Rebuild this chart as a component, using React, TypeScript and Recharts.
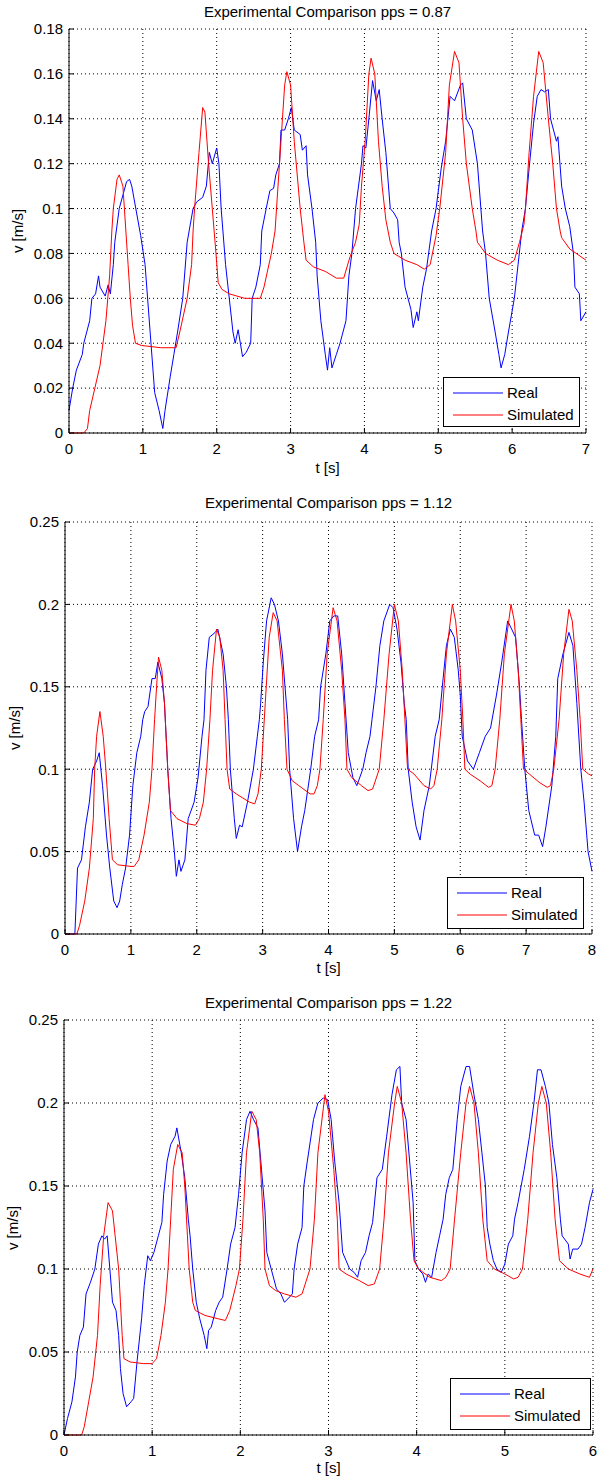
import { LineChart, Line, XAxis, YAxis, CartesianGrid, Legend } from "recharts";

type Pt = [number, number];

// pps = 0.87
const real1: Pt[] = [
  [0, 0.01], [0.05, 0.02], [0.1, 0.028], [0.18, 0.035], [0.2, 0.04], [0.28, 0.05], [0.31, 0.06], [0.36, 0.062],
  [0.4, 0.07], [0.42, 0.065], [0.49, 0.061], [0.53, 0.066], [0.56, 0.062], [0.6, 0.075], [0.62, 0.085], [0.68, 0.1],
  [0.78, 0.112], [0.82, 0.113], [0.85, 0.11], [0.97, 0.088], [1.03, 0.075], [1.11, 0.04], [1.16, 0.018], [1.22, 0.01],
  [1.27, 0.002], [1.3, 0.01], [1.37, 0.025], [1.42, 0.035], [1.47, 0.045], [1.54, 0.06], [1.6, 0.085], [1.68, 0.1],
  [1.73, 0.103], [1.81, 0.105], [1.86, 0.11], [1.9, 0.125], [1.94, 0.12], [2.0, 0.127], [2.03, 0.12], [2.06, 0.1],
  [2.12, 0.075], [2.17, 0.06], [2.22, 0.045], [2.25, 0.04], [2.29, 0.046], [2.32, 0.04], [2.35, 0.034], [2.4, 0.036],
  [2.46, 0.04], [2.48, 0.06], [2.53, 0.065], [2.59, 0.075], [2.61, 0.09], [2.67, 0.1], [2.72, 0.108], [2.77, 0.109],
  [2.8, 0.115], [2.85, 0.12], [2.87, 0.135], [2.92, 0.135], [2.97, 0.14], [3.01, 0.145], [3.05, 0.135], [3.13, 0.133],
  [3.16, 0.126], [3.21, 0.128], [3.23, 0.115], [3.29, 0.1], [3.34, 0.085], [3.36, 0.07], [3.41, 0.05], [3.47, 0.035],
  [3.5, 0.028], [3.53, 0.038], [3.56, 0.029], [3.62, 0.035], [3.67, 0.04], [3.75, 0.05], [3.79, 0.07], [3.83, 0.08],
  [3.88, 0.1], [3.96, 0.12], [3.98, 0.128], [4.02, 0.127], [4.06, 0.14], [4.11, 0.157], [4.16, 0.148], [4.2, 0.153],
  [4.24, 0.14], [4.29, 0.125], [4.35, 0.1], [4.4, 0.098], [4.45, 0.095], [4.47, 0.085], [4.5, 0.08], [4.55, 0.065],
  [4.63, 0.055], [4.66, 0.047], [4.71, 0.054], [4.73, 0.05], [4.79, 0.065], [4.84, 0.073], [4.91, 0.09], [4.97, 0.1],
  [5.04, 0.118], [5.1, 0.13], [5.16, 0.15], [5.22, 0.148], [5.3, 0.155], [5.33, 0.156], [5.38, 0.14], [5.46, 0.135],
  [5.53, 0.12], [5.6, 0.09], [5.64, 0.08], [5.69, 0.06], [5.77, 0.045], [5.82, 0.035], [5.85, 0.029], [5.9, 0.035],
  [5.95, 0.045], [6.03, 0.06], [6.08, 0.075], [6.13, 0.09], [6.18, 0.1], [6.23, 0.118], [6.29, 0.138], [6.34, 0.15],
  [6.39, 0.153], [6.44, 0.152], [6.49, 0.153], [6.52, 0.14], [6.6, 0.13], [6.62, 0.132], [6.67, 0.11], [6.72, 0.1],
  [6.78, 0.092], [6.83, 0.08], [6.85, 0.065], [6.91, 0.062], [6.93, 0.05], [7.0, 0.054],
];
const sim1: Pt[] = [
  [0, 0], [0.2, 0], [0.25, 0.002], [0.28, 0.01], [0.35, 0.02], [0.42, 0.03], [0.5, 0.05], [0.55, 0.07], [0.58, 0.09],
  [0.6, 0.1], [0.65, 0.113], [0.68, 0.115], [0.73, 0.11], [0.77, 0.09], [0.8, 0.075], [0.83, 0.06], [0.86, 0.048],
  [0.9, 0.04], [0.98, 0.039], [1.24, 0.038], [1.45, 0.038], [1.5, 0.045], [1.6, 0.06], [1.66, 0.075], [1.68, 0.09],
  [1.7, 0.1], [1.76, 0.125], [1.81, 0.145], [1.84, 0.143], [1.89, 0.12], [1.94, 0.1], [1.99, 0.08], [2.02, 0.067],
  [2.07, 0.064], [2.17, 0.062], [2.38, 0.06], [2.59, 0.06], [2.64, 0.065], [2.74, 0.08], [2.79, 0.09], [2.85, 0.12],
  [2.92, 0.155], [2.95, 0.161], [3.0, 0.155], [3.05, 0.13], [3.13, 0.1], [3.18, 0.085], [3.21, 0.077], [3.31, 0.074],
  [3.47, 0.072], [3.62, 0.069], [3.72, 0.069], [3.8, 0.078], [3.88, 0.085], [3.93, 0.093], [3.96, 0.11], [4.01, 0.13],
  [4.06, 0.16], [4.09, 0.167], [4.14, 0.16], [4.19, 0.13], [4.24, 0.11], [4.29, 0.095], [4.35, 0.085], [4.4, 0.08],
  [4.55, 0.077], [4.71, 0.075], [4.81, 0.073], [4.89, 0.075], [4.97, 0.088], [5.02, 0.1], [5.1, 0.125], [5.15, 0.155],
  [5.22, 0.17], [5.28, 0.165], [5.33, 0.14], [5.38, 0.12], [5.46, 0.1], [5.51, 0.09], [5.53, 0.085], [5.64, 0.08],
  [5.8, 0.077], [5.95, 0.075], [6.03, 0.077], [6.1, 0.085], [6.16, 0.093], [6.18, 0.1], [6.23, 0.125], [6.29, 0.15],
  [6.36, 0.17], [6.42, 0.165], [6.49, 0.14], [6.55, 0.12], [6.6, 0.1], [6.65, 0.09], [6.67, 0.087], [6.78, 0.082],
  [7.0, 0.077],
];

// pps = 1.12
const real2: Pt[] = [
  [0, 0], [0.15, 0], [0.17, 0.02], [0.19, 0.04], [0.25, 0.045], [0.31, 0.065], [0.37, 0.08], [0.42, 0.1], [0.48, 0.105],
  [0.52, 0.11], [0.57, 0.09], [0.63, 0.06], [0.68, 0.04], [0.74, 0.02], [0.79, 0.016], [0.83, 0.02], [0.87, 0.03],
  [0.92, 0.04], [0.98, 0.06], [1.03, 0.09], [1.09, 0.11], [1.15, 0.12], [1.18, 0.13], [1.21, 0.135], [1.26, 0.138],
  [1.32, 0.155], [1.37, 0.155], [1.41, 0.165], [1.47, 0.155], [1.51, 0.14], [1.56, 0.1], [1.61, 0.07], [1.66, 0.05],
  [1.69, 0.035], [1.73, 0.045], [1.76, 0.038], [1.82, 0.045], [1.87, 0.07], [1.96, 0.08], [2.02, 0.095], [2.08, 0.12],
  [2.11, 0.13], [2.14, 0.16], [2.19, 0.18], [2.28, 0.183], [2.32, 0.185], [2.4, 0.17], [2.45, 0.15], [2.48, 0.13],
  [2.51, 0.1], [2.57, 0.07], [2.6, 0.058], [2.65, 0.066], [2.69, 0.065], [2.77, 0.08], [2.86, 0.1], [2.92, 0.12],
  [2.95, 0.13], [2.97, 0.14], [3.01, 0.165], [3.06, 0.19], [3.13, 0.204], [3.18, 0.2], [3.24, 0.19], [3.3, 0.17],
  [3.35, 0.145], [3.38, 0.13], [3.41, 0.1], [3.47, 0.07], [3.53, 0.05], [3.59, 0.065], [3.64, 0.075], [3.73, 0.1],
  [3.79, 0.12], [3.85, 0.13], [3.88, 0.15], [3.96, 0.17], [4.02, 0.19], [4.08, 0.193], [4.14, 0.193], [4.2, 0.17],
  [4.25, 0.14], [4.3, 0.11], [4.37, 0.095], [4.43, 0.09], [4.52, 0.1], [4.57, 0.11], [4.63, 0.12], [4.66, 0.13],
  [4.72, 0.15], [4.78, 0.175], [4.84, 0.19], [4.93, 0.2], [4.98, 0.198], [5.04, 0.185], [5.1, 0.165], [5.15, 0.14],
  [5.18, 0.13], [5.21, 0.1], [5.27, 0.08], [5.33, 0.065], [5.39, 0.057], [5.45, 0.075], [5.53, 0.09], [5.62, 0.12],
  [5.68, 0.13], [5.74, 0.155], [5.79, 0.175], [5.85, 0.185], [5.91, 0.18], [5.97, 0.16], [6.0, 0.145], [6.03, 0.12],
  [6.11, 0.105], [6.2, 0.1], [6.29, 0.11], [6.38, 0.12], [6.46, 0.125], [6.55, 0.145], [6.63, 0.165], [6.72, 0.19],
  [6.78, 0.185], [6.84, 0.18], [6.9, 0.15], [6.93, 0.13], [6.98, 0.1], [7.04, 0.075], [7.13, 0.06], [7.19, 0.06],
  [7.25, 0.053], [7.3, 0.065], [7.39, 0.09], [7.45, 0.12], [7.48, 0.155], [7.56, 0.17], [7.65, 0.183], [7.71, 0.175],
  [7.77, 0.14], [7.83, 0.1], [7.88, 0.08], [7.94, 0.05], [8.0, 0.038],
];
const sim2: Pt[] = [
  [0, 0], [0.18, 0], [0.22, 0.005], [0.3, 0.02], [0.37, 0.04], [0.43, 0.07], [0.45, 0.1], [0.48, 0.12], [0.53, 0.135],
  [0.58, 0.12], [0.62, 0.1], [0.67, 0.07], [0.72, 0.045], [0.8, 0.042], [1.0, 0.041], [1.05, 0.041], [1.12, 0.045],
  [1.2, 0.06], [1.28, 0.08], [1.32, 0.1], [1.36, 0.13], [1.39, 0.15], [1.42, 0.168], [1.47, 0.16], [1.51, 0.14],
  [1.56, 0.1], [1.6, 0.075], [1.7, 0.07], [1.85, 0.067], [1.98, 0.066], [2.04, 0.07], [2.1, 0.08], [2.15, 0.1],
  [2.2, 0.13], [2.24, 0.16], [2.3, 0.185], [2.35, 0.18], [2.4, 0.16], [2.43, 0.13], [2.46, 0.1], [2.5, 0.088],
  [2.6, 0.085], [2.8, 0.08], [2.88, 0.079], [2.93, 0.085], [2.98, 0.1], [3.04, 0.14], [3.1, 0.18], [3.16, 0.195],
  [3.22, 0.19], [3.3, 0.16], [3.33, 0.13], [3.37, 0.1], [3.45, 0.093], [3.55, 0.09], [3.72, 0.085], [3.78, 0.085],
  [3.83, 0.09], [3.87, 0.1], [3.92, 0.13], [3.98, 0.17], [4.07, 0.198], [4.13, 0.19], [4.2, 0.16], [4.25, 0.13],
  [4.28, 0.1], [4.35, 0.095], [4.5, 0.09], [4.6, 0.087], [4.67, 0.088], [4.77, 0.1], [4.84, 0.13], [4.92, 0.17],
  [5.0, 0.2], [5.06, 0.19], [5.12, 0.16], [5.16, 0.13], [5.2, 0.1], [5.3, 0.097], [5.45, 0.09], [5.55, 0.088],
  [5.6, 0.09], [5.65, 0.1], [5.72, 0.13], [5.79, 0.17], [5.88, 0.2], [5.93, 0.19], [6.0, 0.16], [6.04, 0.13],
  [6.07, 0.1], [6.15, 0.097], [6.3, 0.093], [6.43, 0.089], [6.48, 0.09], [6.53, 0.1], [6.6, 0.13], [6.67, 0.17],
  [6.77, 0.2], [6.82, 0.19], [6.88, 0.16], [6.92, 0.13], [6.96, 0.1], [7.05, 0.097], [7.2, 0.092], [7.32, 0.089],
  [7.37, 0.09], [7.42, 0.1], [7.5, 0.13], [7.57, 0.17], [7.65, 0.197], [7.7, 0.19], [7.77, 0.16], [7.82, 0.13],
  [7.86, 0.1], [7.95, 0.097], [8.0, 0.096],
];

// pps = 1.22
const real3: Pt[] = [
  [0, 0], [0.04, 0.01], [0.09, 0.02], [0.13, 0.035], [0.15, 0.05], [0.18, 0.06], [0.22, 0.065], [0.25, 0.085],
  [0.3, 0.092], [0.35, 0.1], [0.39, 0.115], [0.43, 0.12], [0.46, 0.118], [0.49, 0.12], [0.52, 0.1], [0.55, 0.08],
  [0.59, 0.075], [0.62, 0.06], [0.64, 0.04], [0.67, 0.025], [0.71, 0.017], [0.76, 0.02], [0.79, 0.022], [0.83, 0.045],
  [0.88, 0.07], [0.91, 0.09], [0.95, 0.108], [0.98, 0.105], [1.02, 0.11], [1.07, 0.12], [1.11, 0.128], [1.13, 0.145],
  [1.17, 0.165], [1.21, 0.175], [1.26, 0.18], [1.28, 0.185], [1.33, 0.17], [1.37, 0.155], [1.41, 0.13], [1.43, 0.12],
  [1.46, 0.1], [1.5, 0.08], [1.54, 0.07], [1.59, 0.06], [1.62, 0.052], [1.64, 0.063], [1.67, 0.065], [1.72, 0.075],
  [1.76, 0.08], [1.8, 0.083], [1.85, 0.1], [1.89, 0.115], [1.94, 0.125], [1.98, 0.145], [2.02, 0.17], [2.07, 0.19],
  [2.11, 0.195], [2.15, 0.19], [2.2, 0.185], [2.24, 0.16], [2.28, 0.135], [2.3, 0.11], [2.35, 0.1], [2.41, 0.088],
  [2.46, 0.085], [2.5, 0.08], [2.54, 0.082], [2.59, 0.085], [2.61, 0.1], [2.65, 0.115], [2.7, 0.125], [2.72, 0.15],
  [2.76, 0.165], [2.83, 0.19], [2.88, 0.2], [2.94, 0.203], [2.99, 0.202], [3.03, 0.19], [3.07, 0.165], [3.12, 0.14],
  [3.16, 0.11], [3.2, 0.105], [3.24, 0.1], [3.29, 0.098], [3.33, 0.095], [3.37, 0.105], [3.42, 0.11], [3.46, 0.12],
  [3.5, 0.128], [3.55, 0.155], [3.61, 0.16], [3.66, 0.18], [3.72, 0.205], [3.77, 0.22], [3.81, 0.222], [3.83, 0.2],
  [3.88, 0.19], [3.92, 0.165], [3.96, 0.14], [3.98, 0.105], [4.02, 0.1], [4.07, 0.097], [4.1, 0.092], [4.13, 0.097],
  [4.17, 0.095], [4.22, 0.11], [4.26, 0.12], [4.3, 0.13], [4.33, 0.145], [4.37, 0.155], [4.41, 0.16], [4.46, 0.19],
  [4.5, 0.21], [4.56, 0.222], [4.6, 0.222], [4.65, 0.205], [4.7, 0.19], [4.74, 0.17], [4.78, 0.15], [4.8, 0.125],
  [4.83, 0.115], [4.87, 0.105], [4.91, 0.1], [4.96, 0.098], [5.0, 0.103], [5.04, 0.115], [5.09, 0.12], [5.11, 0.13],
  [5.15, 0.14], [5.22, 0.16], [5.28, 0.18], [5.33, 0.2], [5.37, 0.22], [5.41, 0.22], [5.46, 0.21], [5.5, 0.2],
  [5.54, 0.175], [5.59, 0.155], [5.63, 0.13], [5.65, 0.12], [5.72, 0.115], [5.74, 0.106], [5.77, 0.112], [5.83, 0.112],
  [5.87, 0.115], [5.91, 0.125], [5.96, 0.14], [6.0, 0.148],
];
const sim3: Pt[] = [
  [0, 0], [0.2, 0], [0.23, 0.005], [0.28, 0.02], [0.33, 0.035], [0.38, 0.06], [0.41, 0.09], [0.45, 0.12], [0.5, 0.14],
  [0.55, 0.135], [0.58, 0.12], [0.62, 0.1], [0.64, 0.08], [0.66, 0.06], [0.68, 0.046], [0.75, 0.044], [0.9, 0.043],
  [1.0, 0.043], [1.05, 0.046], [1.1, 0.06], [1.15, 0.08], [1.18, 0.1], [1.21, 0.13], [1.24, 0.16], [1.29, 0.175],
  [1.34, 0.17], [1.37, 0.15], [1.4, 0.12], [1.42, 0.1], [1.46, 0.08], [1.49, 0.075], [1.6, 0.072], [1.75, 0.07],
  [1.83, 0.069], [1.88, 0.075], [1.95, 0.09], [1.99, 0.1], [2.03, 0.13], [2.07, 0.17], [2.13, 0.195], [2.18, 0.19],
  [2.22, 0.17], [2.26, 0.13], [2.28, 0.1], [2.33, 0.09], [2.4, 0.087], [2.5, 0.085], [2.63, 0.083], [2.7, 0.085],
  [2.79, 0.1], [2.84, 0.13], [2.88, 0.17], [2.96, 0.205], [3.0, 0.195], [3.06, 0.16], [3.1, 0.13], [3.12, 0.1],
  [3.2, 0.097], [3.35, 0.093], [3.45, 0.09], [3.52, 0.091], [3.58, 0.1], [3.63, 0.13], [3.68, 0.17], [3.75, 0.2],
  [3.78, 0.21], [3.83, 0.2], [3.88, 0.17], [3.93, 0.13], [3.97, 0.105], [4.02, 0.1], [4.15, 0.095], [4.28, 0.093],
  [4.33, 0.095], [4.38, 0.1], [4.43, 0.13], [4.5, 0.17], [4.56, 0.2], [4.6, 0.21], [4.65, 0.2], [4.7, 0.17],
  [4.75, 0.13], [4.8, 0.105], [4.88, 0.1], [5.0, 0.097], [5.1, 0.094], [5.15, 0.095], [5.2, 0.1], [5.26, 0.13],
  [5.32, 0.17], [5.38, 0.2], [5.42, 0.21], [5.47, 0.2], [5.52, 0.17], [5.57, 0.13], [5.62, 0.105], [5.72, 0.1],
  [5.85, 0.097], [5.96, 0.095], [6.0, 0.1],
];

const xTicks1 = [0, 1, 2, 3, 4, 5, 6, 7];
const yTicks1 = [0, 0.02, 0.04, 0.06, 0.08, 0.1, 0.12, 0.14, 0.16, 0.18];
const xTicks2 = [0, 1, 2, 3, 4, 5, 6, 7, 8];
const yTicks2 = [0, 0.05, 0.1, 0.15, 0.2, 0.25];
const xTicks3 = [0, 1, 2, 3, 4, 5, 6];
const yTicks3 = [0, 0.05, 0.1, 0.15, 0.2, 0.25];

const FONT = "'Liberation Sans', Arial, Helvetica, sans-serif";
const W = 599;

const rows = (pts: Pt[]) => pts.map(([t, v]) => ({ t, v }));
const fmt = (v: number) => String(Number(v.toFixed(3)));

const LegendBox = ({ payload, w, h }: any) => (
  <div style={{ width: w, height: h, boxSizing: "border-box", border: "1px solid #000", background: "#fff", position: "relative", fontFamily: FONT, fontSize: 15 }}>
    {(payload || []).map((p: any, i: number) => (
      <div key={p.value} style={{ position: "absolute", left: 0, top: 15 + i * 22 - 9, height: 18, width: w }}>
        <svg width={60} height={18} style={{ position: "absolute", left: 0, top: 0 }}>
          <line x1={9} y1={9} x2={59} y2={9} stroke={p.color} strokeWidth={1} />
        </svg>
        <span style={{ position: "absolute", left: 63, top: 0, lineHeight: "18px", color: "#000" }}>{p.value}</span>
      </div>
    ))}
  </div>
);

type PanelProps = {
  title: string;
  real: Pt[];
  sim: Pt[];
  xTicks: number[];
  yTicks: number[];
  height: number;
  plotLeft: number;
  plotRight: number;
  plotTop: number;
  plotBottom: number;
  titleY: number;
  xLabelY: number;
  yLabelX: number;
  legend: { left: number; top: number; w: number; h: number };
};

function Panel(p: PanelProps) {
  const xMax = p.xTicks[p.xTicks.length - 1];
  const yMax = p.yTicks[p.yTicks.length - 1];
  const cx = (p.plotLeft + p.plotRight) / 2;
  const cy = (p.plotTop + p.plotBottom) / 2;
  const tickStyle = { fill: "#000", fontSize: 15, fontFamily: FONT };
  return (
    <div style={{ position: "relative", width: W, height: p.height }}>
      <div style={{ position: "absolute", left: 0, width: 2 * cx, top: p.titleY - 9, lineHeight: "18px", textAlign: "center", fontFamily: FONT, fontSize: 15, color: "#000" }}>
        {p.title}
      </div>
      <div style={{ position: "absolute", left: 0, width: 2 * cx, top: p.xLabelY - 9, lineHeight: "18px", textAlign: "center", fontFamily: FONT, fontSize: 15, color: "#000" }}>
        t [s]
      </div>
      <div style={{ position: "absolute", left: p.yLabelX, top: cy, transform: "translate(-50%, -50%) rotate(-90deg)", whiteSpace: "nowrap", lineHeight: "18px", fontFamily: FONT, fontSize: 15, color: "#000" }}>
        v [m/s]
      </div>
      <div style={{ position: "absolute", left: 0, top: 0 }}>
        <LineChart width={W} height={p.height} margin={{ top: p.plotTop, right: W - p.plotRight, bottom: 0, left: 0 }}>
          <CartesianGrid stroke="#000" strokeDasharray="1 3" />
          <XAxis
            type="number"
            dataKey="t"
            domain={[0, xMax]}
            ticks={p.xTicks}
            interval={0}
            allowDuplicatedCategory={false}
            height={p.height - p.plotBottom}
            tickFormatter={fmt}
            axisLine={{ stroke: "#000" }}
            tickLine={{ stroke: "#000" }}
            tickSize={-5}
            tickMargin={15}
            tick={tickStyle}
          />
          <YAxis
            type="number"
            domain={[0, yMax]}
            ticks={p.yTicks}
            interval={0}
            width={p.plotLeft}
            tickFormatter={fmt}
            axisLine={{ stroke: "#000" }}
            tickLine={{ stroke: "#000" }}
            tickSize={-5}
            tickMargin={11}
            tick={tickStyle}
          />
          <Legend
            layout="horizontal"
            align="center"
            verticalAlign="middle"
            wrapperStyle={{ left: p.legend.left, top: p.legend.top, width: p.legend.w, height: p.legend.h }}
            content={(props: any) => <LegendBox payload={props.payload} w={p.legend.w} h={p.legend.h} />}
          />
          <Line data={rows(p.real)} dataKey="v" name="Real" type="linear" stroke="#0000ff" strokeWidth={1} dot={false} activeDot={false} isAnimationActive={false} />
          <Line data={rows(p.sim)} dataKey="v" name="Simulated" type="linear" stroke="#ff0000" strokeWidth={1} dot={false} activeDot={false} isAnimationActive={false} />
        </LineChart>
      </div>
    </div>
  );
}

export default function App() {
  return (
    <div style={{ position: "absolute", left: 0, top: 0, width: W, height: 1479, background: "#fff" }}>
      <Panel
        title="Experimental Comparison pps = 0.87"
        real={real1}
        sim={sim1}
        xTicks={xTicks1}
        yTicks={yTicks1}
        height={490}
        plotLeft={69}
        plotRight={586}
        plotTop={29}
        plotBottom={433}
        titleY={12}
        xLabelY={468}
        yLabelX={18}
        legend={{ left: 443, top: 377, w: 137, h: 50 }}
      />
      <Panel
        title="Experimental Comparison pps = 1.12"
        real={real2}
        sim={sim2}
        xTicks={xTicks2}
        yTicks={yTicks2}
        height={500}
        plotLeft={65}
        plotRight={592}
        plotTop={32}
        plotBottom={444}
        titleY={13}
        xLabelY={478}
        yLabelX={15}
        legend={{ left: 447, top: 387, w: 137, h: 52 }}
      />
      <Panel
        title="Experimental Comparison pps = 1.22"
        real={real3}
        sim={sim3}
        xTicks={xTicks3}
        yTicks={yTicks3}
        height={489}
        plotLeft={64}
        plotRight={593}
        plotTop={30}
        plotBottom={445}
        titleY={13}
        xLabelY={478}
        yLabelX={13}
        legend={{ left: 450, top: 388, w: 141, h: 52 }}
      />
    </div>
  );
}
